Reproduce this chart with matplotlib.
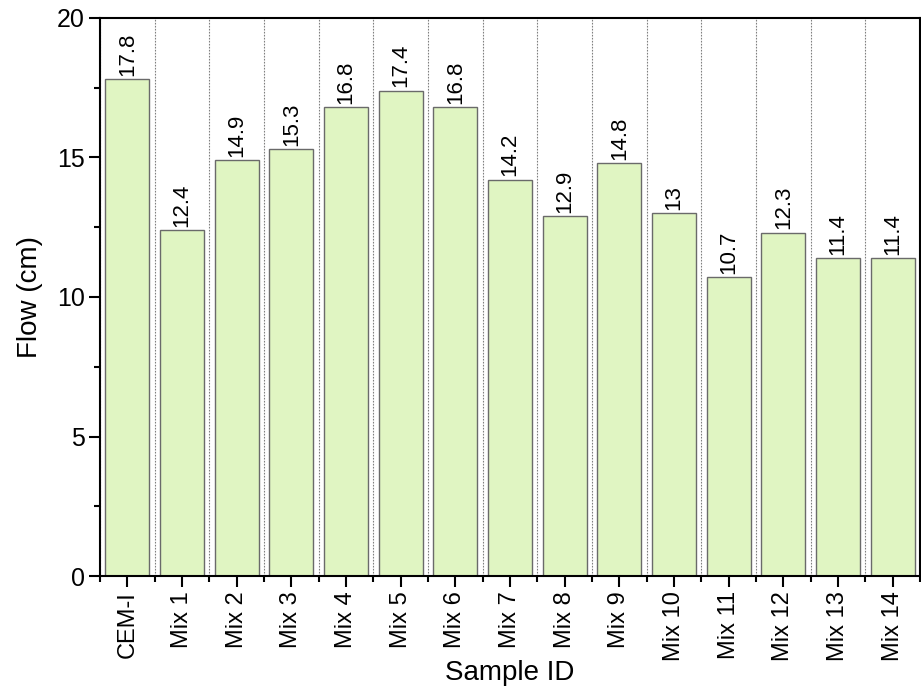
import numpy as np
import matplotlib
matplotlib.use('Agg')
import matplotlib.pyplot as plt
from matplotlib.ticker import MultipleLocator, FixedLocator

plt.rcParams['font.family'] = ['Liberation Sans', 'DejaVu Sans']

samples = ['CEM-I', 'Mix 1', 'Mix 2', 'Mix 3', 'Mix 4', 'Mix 5', 'Mix 6', 'Mix 7',
           'Mix 8', 'Mix 9', 'Mix 10', 'Mix 11', 'Mix 12', 'Mix 13', 'Mix 14']
flow = [17.8, 12.4, 14.9, 15.3, 16.8, 17.4, 16.8, 14.2, 12.9, 14.8, 13, 10.7, 12.3, 11.4, 11.4]
value_labels = ['17.8', '12.4', '14.9', '15.3', '16.8', '17.4', '16.8', '14.2',
                '12.9', '14.8', '13', '10.7', '12.3', '11.4', '11.4']

fig = plt.figure(figsize=(9.21, 6.91), dpi=100)
ax = fig.add_axes([0.1086, 0.1664, 0.8903, 0.8076])

x = np.arange(len(samples))
ax.bar(x, flow, width=0.8, color='#e0f5c2', edgecolor='#6a6a6a', linewidth=1.0, zorder=2)

for xi, v, lab in zip(x, flow, value_labels):
    ax.text(xi, v + 0.12, lab, rotation=90, ha='center', va='bottom', fontsize=16, zorder=3)

ax.set_xlim(-0.5, len(samples) - 0.5)
ax.set_ylim(0, 20)
ax.set_xticks(x)
ax.set_xticklabels(samples, rotation=90, fontsize=17)
ax.xaxis.set_minor_locator(FixedLocator(np.arange(-0.5, len(samples), 1.0)))
ax.yaxis.set_major_locator(MultipleLocator(5))
ax.yaxis.set_minor_locator(MultipleLocator(2.5))
ax.tick_params(axis='y', labelsize=18)

ax.tick_params(which='major', direction='out', length=8, width=1.5, pad=3)
ax.tick_params(which='minor', direction='out', length=4, width=1.5)
ax.tick_params(axis='y', which='both', right=False)

ax.grid(True, axis='x', which='minor', linestyle=(0, (1.5, 1.2)), color='#808080', linewidth=0.8, zorder=1)

for s in ax.spines.values():
    s.set_linewidth(1.5)

ax.set_xlabel('Sample ID', fontsize=20, labelpad=-1)
ax.set_ylabel('Flow (cm)', fontsize=20, labelpad=10)

plt.savefig('out.png', dpi=100)
